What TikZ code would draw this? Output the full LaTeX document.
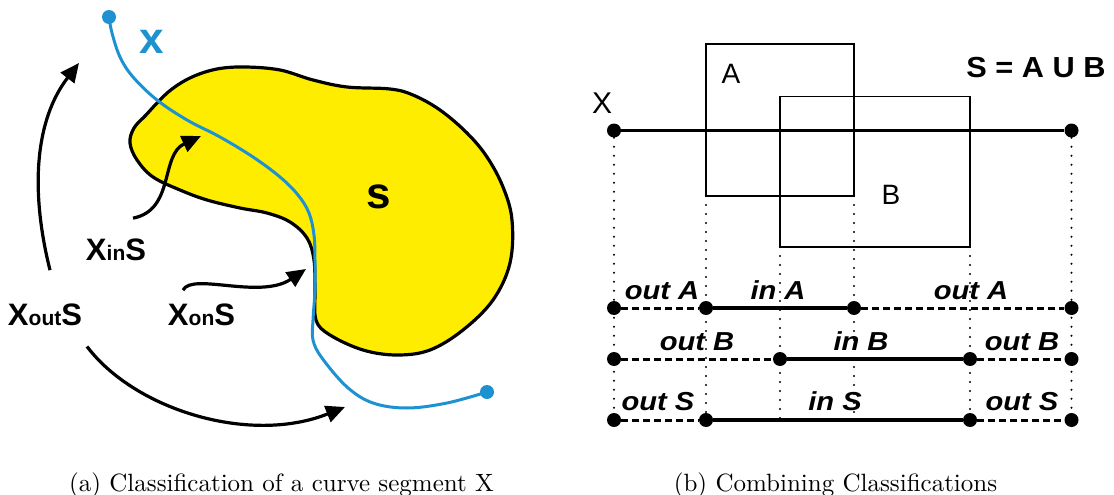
\documentclass[tikz,border=0pt]{standalone}
\usepackage{fontspec}
\setsansfont{Liberation Sans}
\usetikzlibrary{arrows.meta, calc}
\definecolor{curveblue}{RGB}{30,146,208}
\definecolor{setyellow}{RGB}{255,237,0}

\begin{document}
\begin{tikzpicture}[x=1pt, y=-1pt,
  arr/.style={line width=3.2pt, -{Triangle[length=19pt, width=17pt]}},
  setlbl/.style={font=\sffamily\bfseries\fontsize{31}{31}\selectfont, inner sep=0pt, anchor=base},
  bdot/.style={circle, fill=curveblue, inner sep=0pt, minimum size=14pt},
  dot/.style={circle, fill, inner sep=0pt, minimum size=14pt},
  rect/.style={draw, line width=1.4pt, inner sep=0pt, outer sep=0pt},
  boxlbl/.style={font=\sffamily\fontsize{28}{28}\selectfont, inner sep=0pt},
  seglbl/.style={font=\sffamily\bfseries\itshape\fontsize{26}{26}\selectfont, xscale=1.12, inner sep=0pt, anchor=base},
  inseg/.style={line width=3.4pt},
  outseg/.style={line width=3pt, dash pattern=on 7pt off 4pt},
  guide/.style={line width=2.2pt, line cap=round, dash pattern=on 0pt off 9pt},
  caption/.style={scale=2.5, anchor=base}]
  \useasboundingbox (0,0) rectangle (1114,495);

  % (a) the set S and the curve X
  \draw[line width=3.2pt, fill=setyellow] plot[smooth cycle, tension=0.6] coordinates {
    (146,115) (158,102) (172,89) (192,77) (217,69) (245,67) (280,70) (313,80)
    (347,87) (390,89) (413,95) (440,110) (467,133) (487,157) (503,187) (512,220)
    (510,263) (493,300) (463,330) (430,350) (397,355) (363,350) (330,335)
    (316,320) (315,290) (314,260) (307,238) (290,222) (267,213) (240,208)
    (207,200) (180,190) (153,177) (137,160) (130,143) (134,128)};
  \draw[curveblue, line width=3pt] plot[smooth, tension=0.6] coordinates {
    (109,17) (112,33) (120,57) (133,77) (157,100) (187,120) (220,137)
    (253,157) (280,177) (298,195) (309,213) (314,235) (315,260) (315,290)
    (313,320) (313,340) (322,358) (347,387) (373,403) (407,408) (447,403) (487,392)};
  \node[bdot] (xstart) at (109,17) {};
  \node[bdot] (xend) at (487,392) {};
  \node[setlbl, curveblue, anchor=center, font=\sffamily\bfseries\fontsize{44}{44}\selectfont] (xname) at (152,42) {x};
  \node[setlbl, anchor=center, font=\sffamily\bfseries\fontsize{44}{44}\selectfont] (sname) at (379,197) {s};

  % labels
  \node[setlbl] (xin) at (116,260) {X{\fontsize{21}{21}\selectfont in}S};
  \node[setlbl] (xout) at (45,325) {X{\fontsize{21}{21}\selectfont out}S};
  \node[setlbl] (xon) at (201.5,325) {X{\fontsize{21}{21}\selectfont on}S};

  % arrows
  \coordinate (outtip) at (79,63);
  \coordinate (intip) at (201,136);
  \coordinate (ontip) at (306,269);
  \coordinate (lowtip) at (345,407);
  \draw[arr] ([xshift=5pt, yshift=33pt]xout.north) .. controls (30,190) and (35,120) .. (outtip);
  \draw[arr] ([xshift=42pt, yshift=-21pt]xout.south) .. controls (135,410) and (250,445) .. (lowtip);
  \draw[arr] ([xshift=17pt, yshift=20pt]xin.north) .. controls (175,210) and (160,155) .. (intip);
  \draw[arr] ([xshift=-18.5pt, yshift=13pt]xon.north) .. controls (192,272) and (260,300) .. (ontip);

  % (b) the sets A, B and the segment X
  \node[rect, minimum width=148pt, minimum height=152pt] (boxA) at (780,120) {};
  \node[rect, minimum width=190pt, minimum height=150.5pt] (boxB) at (875,171.75) {};
  \node[boxlbl] (lblA) at (731,74) {A};
  \node[boxlbl] (lblB) at (891,195) {B};
  \node[boxlbl, font=\sffamily\fontsize{30}{30}\selectfont] (lblX) at (602,103) {X};
  \node[boxlbl, font=\sffamily\bfseries\fontsize{29}{29}\selectfont, xscale=1.06] (union) at (1036,67.6) {S = A U B};
  \node[dot] (x1) at (614,130.5) {};
  \node[dot] (x2) at (1071.5,130.5) {};
  \draw[line width=3.4pt] (x1) -- (x2);

  % classification rows
  \foreach \n/\x in {1/614,2/706,3/854,4/1071.5} \node[dot] (a\n) at (\x,308) {};
  \foreach \n/\x in {1/614,2/780,3/970,4/1071.5} \node[dot] (b\n) at (\x,359) {};
  \foreach \n/\x in {1/614,2/706,3/970,4/1071.5} \node[dot] (s\n) at (\x,420) {};
  \foreach \r in {a,b,s} {
    \draw[outseg] (\r1) -- (\r2);
    \draw[inseg] (\r2) -- (\r3);
    \draw[outseg] (\r3) -- (\r4);
  }

  % guides
  \draw[guide] (x1) -- (s1);
  \draw[guide] (boxA.south west) -- (s2);
  \draw[guide] (boxA.south east) -- (boxA.south east |- s1);
  \draw[guide] (boxB.south west) -- (boxB.south west |- s1);
  \draw[guide] (boxB.south east) -- (s3);
  \draw[guide] (x2) -- (s4);

  \node[seglbl] (la1) at (662,299) {out A};
  \node[seglbl] (la2) at (778,299) {in A};
  \node[seglbl] (la3) at (971,299) {out A};
  \node[seglbl] (lb1) at (697,350) {out B};
  \node[seglbl] (lb2) at (861,350) {in B};
  \node[seglbl] (lb3) at (1022,350) {out B};
  \node[seglbl] (ls1) at (658,410) {out S};
  \node[seglbl] (ls2) at (835,410) {in S};
  \node[seglbl] (ls3) at (1022,410) {out S};

  % captions
  \node[caption] (capa) at (281.5,491) {(a) Classification of a curve segment X};
  \node[caption] (capb) at (835.5,491) {(b) Combining Classifications};
\end{tikzpicture}
\end{document}
